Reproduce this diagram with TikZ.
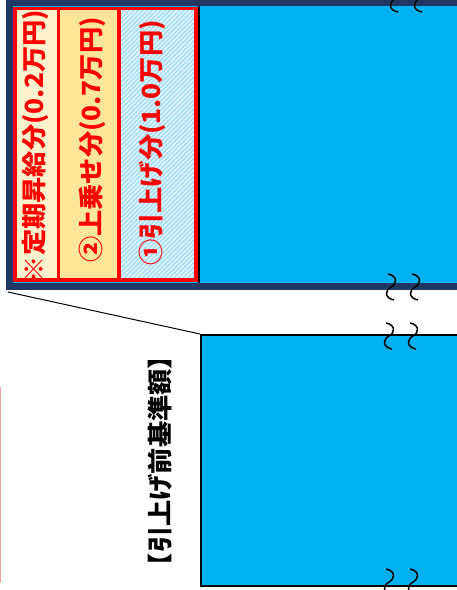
\documentclass[tikz,border=0pt]{standalone}
\usepackage{fontspec}
\newfontfamily\jp{Noto Sans CJK JP}
\usetikzlibrary{patterns.meta}
\definecolor{navy}{HTML}{1F3864}
\definecolor{skyb}{HTML}{00B0F0}
\definecolor{cream}{HTML}{FFF2CC}
\definecolor{gold}{HTML}{FFE699}
\definecolor{lblue}{HTML}{A6E0F8}
\definecolor{pinkl}{HTML}{E8A8A8}
\tikzset{
  redbox/.style={draw=red,line width=3.4pt},
  redtxt/.style={text=red,rotate=90,font=\jp\bfseries\fontsize{25}{25}\selectfont,inner sep=0pt},
  blktxt/.style={text=black,rotate=90,font=\jp\bfseries\fontsize{25}{25}\selectfont,inner sep=0pt},
  brk/.style={draw=black,line width=1.5pt},
}
\newcommand{\brkmark}[2]{%
  \draw[brk] (#1-3,#2-13) .. controls (#1+7,#2-11) and (#1+6,#2-3) .. (#1,#2)
    .. controls (#1-6,#2+3) and (#1-7,#2+11) .. (#1+3,#2+13);}
\newcommand{\strtxt}[1]{\scalebox{1.05}[1]{#1}}
\begin{document}
\begin{tikzpicture}[x=1pt,y=-1pt]
\useasboundingbox (0,0) rectangle (456,590);
% upper frame
\fill[navy] (6,-5) rectangle (460,290);
\fill[skyb] (13,6) rectangle (460,283);
\coordinate (ul) at (8,292);
% boxes
\fill[cream] (14,8) rectangle (59,281);
\fill[gold] (59,8) rectangle (119,281);
\fill[lblue] (119,8) rectangle (197,281);
\fill[pattern={Lines[angle=45,distance=3.2pt,line width=1.1pt]},pattern color=white!85!lblue] (119,8) rectangle (197,281);
\draw[redbox] (15,8.5) rectangle (58.5,280);
\draw[redbox] (58.5,8.5) rectangle (119,280);
\draw[redbox] (119,8.5) rectangle (196,280);
\draw[black,line width=2pt] (198.5,6) -- (198.5,283);
\node[redtxt] (t1) at (35,146) {\strtxt{※定期昇給分(0.2万円)}};
\node[redtxt] (t2) at (92,140) {\strtxt{②上乗せ分(0.7万円)}};
\node[redtxt] (t3) at (152,143) {\strtxt{①引上げ分(1.0万円)}};
% lower box
\node[draw=black,line width=1.6pt,fill=skyb,minimum width=270pt,minimum height=251pt,anchor=north west,inner sep=0pt] (lb) at (200,334) {};
\draw[black,line width=1pt] (ul) -- (lb.north west);
\node[blktxt] (t4) at (160,461) {\strtxt{【引上げ前基準額】}};
\draw[pinkl,line width=1pt] (0.5,387) -- (0.5,583);
% break marks
\brkmark{395}{-1}
\brkmark{419}{-1}
\brkmark{391}{287}
\brkmark{415}{287}
\brkmark{389}{336}
\brkmark{413}{336}
\brkmark{389}{582}
\brkmark{413}{582}
\end{tikzpicture}
\end{document}
